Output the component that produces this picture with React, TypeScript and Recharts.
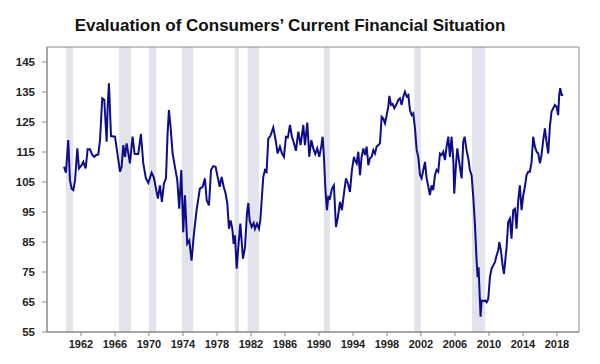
import React from "react";
import { LineChart, Line, XAxis, YAxis, ReferenceArea } from "recharts";

const years: number[] = [
  1960.0, 1960.23, 1960.5, 1960.7, 1960.9, 1961.1, 1961.3, 1961.57, 1961.76, 1962.08,
  1962.27, 1962.55, 1962.78, 1963.06, 1963.33, 1963.57, 1963.8, 1964.04, 1964.24, 1964.5,
  1964.74, 1965.02, 1965.14, 1965.29, 1965.53, 1966.0, 1966.2, 1966.59, 1966.78, 1966.98,
  1967.18, 1967.37, 1967.57, 1967.76,
  1968.07, 1968.31, 1968.74, 1969.05, 1969.33, 1969.64, 1969.92, 1970.31, 1970.58, 1970.82,
  1971.05, 1971.29, 1971.52, 1971.76, 1972.0, 1972.19, 1972.35, 1972.54, 1972.78, 1973.05,
  1973.33, 1973.56, 1973.8, 1974.03, 1974.23, 1974.5, 1974.74, 1975.01, 1975.29, 1975.6,
  1975.99, 1976.31, 1976.58,
  1976.79, 1977.06, 1977.3, 1977.57, 1977.84, 1978.08, 1978.32, 1978.55, 1978.79, 1979.02,
  1979.22, 1979.41, 1979.61, 1979.81, 1979.96, 1980.12, 1980.32, 1980.51, 1980.75, 1980.9,
  1981.06, 1981.3, 1981.53, 1981.69, 1981.84, 1982.08, 1982.32, 1982.47, 1982.71, 1982.94,
  1983.1, 1983.26, 1983.45, 1983.65, 1983.84, 1984.04, 1984.28, 1984.63, 1984.9, 1985.14,
  1985.41, 1985.65, 1985.88, 1986.12, 1986.35, 1986.59, 1986.82, 1987.06, 1987.29, 1987.57,
  1987.84, 1988.16, 1988.35, 1988.63, 1988.86, 1989.1, 1989.33, 1989.57, 1989.8, 1990.04,
  1990.27, 1990.43, 1990.59, 1990.74, 1990.94, 1991.1, 1991.29, 1991.53, 1991.76, 1992.0,
  1992.23, 1992.47, 1992.7, 1992.94, 1993.18, 1993.41, 1993.65, 1993.88, 1994.12,
  1994.24, 1994.44, 1994.63, 1994.83, 1995.02, 1995.22, 1995.42, 1995.61, 1995.81, 1996.0,
  1996.2, 1996.4, 1996.59, 1996.79, 1996.99, 1997.18, 1997.38, 1997.57, 1997.77, 1997.97,
  1998.16, 1998.28, 1998.48, 1998.67, 1998.87, 1999.14, 1999.34, 1999.53, 1999.73, 1999.93,
  2000.12, 2000.32, 2000.52, 2000.71, 2000.91, 2001.1, 2001.3, 2001.5, 2001.69, 2001.89,
  2002.08, 2002.28, 2002.48, 2002.67, 2002.87,
  2003.06, 2003.25, 2003.45, 2003.65, 2003.84, 2004.04, 2004.24, 2004.43, 2004.63, 2004.82,
  2005.02, 2005.22, 2005.41, 2005.61, 2005.81, 2005.92, 2006.12, 2006.28, 2006.47, 2006.67,
  2006.79, 2006.98, 2007.14, 2007.37, 2007.57, 2007.76, 2007.96, 2008.16, 2008.35, 2008.55,
  2008.67, 2008.78, 2008.86, 2008.94, 2009.02, 2009.14, 2009.33, 2009.53, 2009.73, 2009.92,
  2010.12, 2010.31, 2010.51, 2010.71, 2010.9, 2011.1, 2011.22, 2011.41, 2011.61, 2011.77,
  2012.08, 2012.27, 2012.47, 2012.66, 2012.86, 2013.06, 2013.25, 2013.45, 2013.64, 2013.84,
  2014.04, 2014.23, 2014.43, 2014.63, 2014.82, 2015.02, 2015.21, 2015.41, 2015.61, 2015.8,
  2016.0, 2016.19, 2016.39, 2016.59, 2016.78, 2016.98, 2017.17, 2017.37, 2017.57, 2017.76,
  2017.96, 2018.15, 2018.27, 2018.39, 2018.55, 2018.74,
];

const values: number[] = [
  110.1, 108.1, 119.0, 105.6, 102.8, 102.3, 105.6, 116.2, 109.5, 110.6,
  111.7, 109.5, 115.9, 115.9, 114.0, 113.4, 114.0, 114.2, 119.0, 132.9,
  132.4, 118.4, 130.1, 137.9, 120.3, 120.1, 116.2, 108.4, 110.1, 117.3,
  113.4, 117.9, 114.5, 111.2,
  120.1, 114.3, 114.3, 121.0, 111.2, 106.2, 104.7, 108.1, 106.5, 102.8,
  99.5, 103.9, 98.4, 104.5, 106.2, 121.2, 129.0, 123.4, 114.5, 110.1,
  105.6, 96.1, 109.0, 88.3, 100.6, 84.4, 85.5, 78.8, 87.8, 95.6,
  102.8, 103.4, 106.2,
  98.9, 97.2, 109.0, 110.3, 110.1, 106.7, 103.4, 106.7, 103.4, 101.1,
  97.8, 89.4, 92.2, 89.4, 84.4, 87.2, 76.1, 83.3, 91.1, 85.5,
  79.4, 83.3, 94.5, 98.0, 92.2, 90.0, 91.3, 89.4, 91.1, 89.4,
  92.2, 98.9, 106.7, 109.0, 108.4, 119.5, 120.3, 123.2, 119.0, 114.5,
  116.8, 114.5, 113.4, 120.1, 119.9, 124.0, 120.1, 117.9, 115.4, 121.8,
  117.3, 124.0, 117.3, 124.8, 113.4, 119.0, 116.2, 114.3, 116.2, 113.4,
  116.8, 120.1, 113.4, 103.4, 95.6, 100.0, 99.5, 102.8, 103.9, 90.0,
  93.3, 98.4, 95.6, 101.1, 106.2, 104.5, 101.7, 109.0, 113.4,
  112.3, 111.2, 115.1, 107.3, 113.4, 116.2, 114.0, 116.8, 110.6, 112.9,
  113.4, 115.6, 114.5, 116.8, 117.3, 117.9, 126.8, 126.2, 124.6, 127.3,
  130.1, 133.7, 130.7, 131.0, 129.6, 131.0, 132.4, 132.9, 130.7, 133.5,
  135.1, 133.5, 134.0, 129.0, 127.3, 127.9, 122.9, 115.6, 113.4, 107.3,
  106.2, 109.0, 111.7, 106.2, 103.4,
  100.6, 103.9, 102.3, 107.3, 109.0, 108.4, 114.5, 114.0, 115.1, 112.3,
  116.8, 120.1, 113.4, 120.1, 112.3, 101.1, 110.6, 116.2, 112.3, 108.4,
  106.2, 118.4, 120.1, 115.6, 112.9, 109.0, 107.3, 100.0, 91.1, 78.8,
  73.3, 76.6, 71.0, 65.5, 60.1, 65.5, 65.3, 65.5, 64.9, 66.0,
  73.3, 76.1, 77.2, 78.3, 80.5, 82.2, 85.0, 82.2, 77.2, 74.4,
  83.3, 91.7, 92.8, 86.1, 95.6, 96.1, 89.4, 98.9, 103.9, 95.6,
  100.6, 103.4, 107.3, 108.4, 108.4, 111.7, 120.1, 116.8, 115.1, 114.5,
  111.2, 114.0, 119.0, 122.9, 118.4, 114.5, 123.4, 128.5, 129.6, 130.7,
  130.1, 127.3, 134.0, 136.3, 134.0, 134.0,
];

const recessionStarts: number[] = [1960.24, 1966.47, 1970.0, 1973.85, 1980.1, 1981.6, 1990.59, 2001.2, 2008.0];
const recessionEnds: number[] = [1961.06, 1967.88, 1970.86, 1975.2, 1980.6, 1982.94, 1991.3, 2002.0, 2009.56];

const xTicks: number[] = [1962, 1966, 1970, 1974, 1978, 1982, 1986, 1990, 1994, 1998, 2002, 2006, 2010, 2014, 2018];
const yTicks: number[] = [55, 65, 75, 85, 95, 105, 115, 125, 135, 145];

const title = "Evaluation of Consumers\u2019 Current Financial Situation";

const data = years.map((x, i) => ({ x, v: values[i] }));

const FONT = '"Liberation Sans", Arial, Helvetica, sans-serif';
const X_MIN = 1958;
const X_MAX = 2020.6;
const Y_MIN = 55;
const Y_MAX = 150;

export default function App() {
  return (
    <div style={{ position: "relative", width: 592, height: 356, background: "#fff" }}>
      <LineChart width={592} height={356} data={data} margin={{ top: 39, right: 21, left: 0, bottom: 0 }}>
        <XAxis
          dataKey="x"
          type="number"
          domain={[X_MIN, X_MAX]}
          ticks={xTicks}
          allowDataOverflow
          height={32}
          tickSize={4}
          tickMargin={4}
          interval={0}
          axisLine={{ stroke: "#888" }}
          tickLine={{ stroke: "#888" }}
          tick={{ fontFamily: FONT, fontWeight: "bold", fontSize: 11, fill: "#222" }}
        />
        <YAxis
          type="number"
          domain={[Y_MIN, Y_MAX]}
          ticks={yTicks}
          allowDataOverflow
          width={39}
          tickSize={5}
          tickMargin={7}
          interval={0}
          axisLine={{ stroke: "#888" }}
          tickLine={{ stroke: "#888" }}
          tick={{ fontFamily: FONT, fontWeight: "bold", fontSize: 11.5, fill: "#222" }}
        />
        {recessionStarts.map((s, i) => (
          <ReferenceArea
            key={i}
            x1={s}
            x2={recessionEnds[i]}
            y1={Y_MIN}
            y2={Y_MAX}
            fill="#e3e3eb"
            fillOpacity={1}
            stroke="none"
          />
        ))}
        <ReferenceArea
          x1={X_MIN}
          x2={X_MAX}
          y1={Y_MIN}
          y2={Y_MAX}
          fill="none"
          fillOpacity={0}
          stroke="#8a8a8a"
          strokeWidth={1}
          ifOverflow="visible"
        />
        <Line
          dataKey="v"
          type="linear"
          stroke="#0d0d8c"
          strokeWidth={2}
          dot={false}
          isAnimationActive={false}
        />
      </LineChart>
      <svg width={592} height={356} style={{ position: "absolute", left: 0, top: 0, pointerEvents: "none", zIndex: 2 }}>
        <text x={282} y={23.4} textAnchor="middle" fontFamily={FONT} fontWeight="bold" fontSize={17} fill="#111">
          {title}
        </text>
      </svg>
    </div>
  );
}
